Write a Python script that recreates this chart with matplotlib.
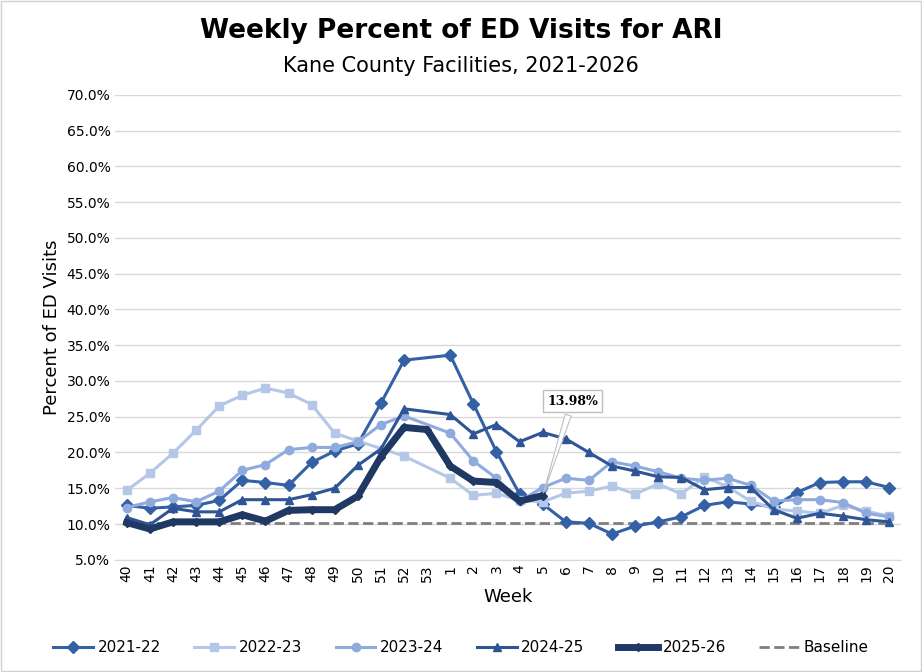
import matplotlib

matplotlib.use("Agg")
import matplotlib.pyplot as plt
import numpy as np
from matplotlib.patches import Rectangle

weeks = [str(w) for w in list(range(40, 54)) + list(range(1, 21))]
N = None

s2122 = [12.6, 12.2, 12.4, 12.6, 13.3, 16.1, 15.8, 15.4, 18.6, 20.2, 21.2, 26.9, 32.9, N,
         33.6, 26.8, 20.1, 14.2, 12.8, 10.3, 10.1, 8.6, 9.7, 10.3, 11.0, 12.6, 13.1, 12.8,
         12.4, 14.4, 15.8, 15.9, 15.9, 15.1]
s2223 = [14.7, 17.1, 19.9, 23.1, 26.5, 28.0, 29.0, 28.3, 26.7, 22.7, 21.6, N, 19.5, N,
         16.4, 14.0, 14.3, 13.3, 13.1, 14.3, 14.6, 15.3, 14.2, 15.6, 14.2, 16.6, 15.2, 13.2,
         12.1, 11.8, 11.5, 12.6, 11.8, 11.1]
s2324 = [12.3, 13.1, 13.7, 13.1, 14.6, 17.5, 18.3, 20.4, 20.7, 20.7, 21.5, 23.9, 25.1, N,
         22.7, 18.8, 16.4, 13.2, 15.1, 16.4, 16.1, 18.7, 18.1, 17.3, 16.4, 16.1, 16.4, 15.4,
         13.2, 13.4, 13.4, 13.0, 11.5, 11.0]
s2425 = [10.9, 9.9, 12.2, 11.7, 11.7, 13.4, 13.4, 13.4, 14.1, 15.0, 18.2, 20.5, 26.1, N,
         25.3, 22.6, 23.9, 21.5, 22.8, 21.9, 20.0, 18.1, 17.4, 16.6, 16.5, 14.8, 15.1, 15.1,
         12.0, 10.8, 11.5, 11.1, 10.6, 10.3]
s2526 = [10.2, 9.3, 10.3, 10.3, 10.3, 11.3, 10.4, 11.9, 12.0, 12.0, 13.9, 19.4, 23.5, 23.2,
         18.1, 16.0, 15.8, 13.2, 13.98]
baseline = 10.2

series = [
    ("2021-22", s2122, "#3460A6", "D", 2.2, 6),
    ("2022-23", s2223, "#B4C7E7", "s", 2.2, 6),
    ("2023-24", s2324, "#8FAADC", "o", 2.2, 6),
    ("2024-25", s2425, "#2F5597", "^", 2.2, 6),
    ("2025-26", s2526, "#1F3864", "D", 5, 4),
]

fig = plt.figure(figsize=(9.22, 6.72), dpi=100)
ax = fig.add_axes([0.125, 0.167, 0.852, 0.692])
fig.patches.append(Rectangle((0.001, 0.001), 0.998, 0.998, transform=fig.transFigure,
                             fill=False, edgecolor="#d0d0d0", linewidth=1))

x_all = np.arange(len(weeks))
for name, vals, color, marker, lw, ms in series:
    arr = np.array([np.nan if v is None else v for v in vals], dtype=float)
    x = x_all[:len(arr)]
    ok = ~np.isnan(arr)
    ax.plot(x[ok], arr[ok], color=color, marker=marker, lw=lw, ms=ms, label=name, zorder=3)

ax.plot(x_all, [baseline] * len(weeks), color="#7f7f7f", ls="--", lw=2, label="Baseline", zorder=2)

last = len(s2526) - 1
ax.annotate(f"{s2526[last]:.2f}%", xy=(last, s2526[last]), xytext=(last + 0.2, 26.7),
            fontsize=9, fontweight="bold", fontfamily="DejaVu Serif",
            bbox=dict(boxstyle="square,pad=0.35", fc="white", ec="#bfbfbf"),
            arrowprops=dict(arrowstyle="wedge,tail_width=0.5", fc="white", ec="#bfbfbf", lw=0.8),
            zorder=5)

ax.set_xlim(-0.5, len(weeks) - 0.5)
ax.set_ylim(5, 70)
ax.set_yticks(np.arange(5, 71, 5))
ax.set_yticklabels([f"{v:.1f}%" for v in np.arange(5, 71, 5)], fontsize=10)
ax.set_xticks(x_all)
ax.set_xticklabels(weeks, rotation=90, fontsize=10)
ax.grid(axis="y", color="#d9d9d9", lw=1)
ax.set_axisbelow(True)
for sp in ["top", "right", "left"]:
    ax.spines[sp].set_visible(False)
ax.spines["bottom"].set_color("#d9d9d9")
ax.tick_params(length=0)
ax.set_xlabel("Week", fontsize=13)
ax.set_ylabel("Percent of ED Visits", fontsize=13)

fig.text(0.5, 0.943, "Weekly Percent of ED Visits for ARI", ha="center", fontsize=19, fontweight="heavy")
fig.text(0.5, 0.893, "Kane County Facilities, 2021-2026", ha="center", fontsize=15)
fig.legend(loc="lower center", ncol=6, frameon=False, fontsize=11, bbox_to_anchor=(0.5, 0.005),
           handlelength=2.6, columnspacing=2.2, handletextpad=0.3)

fig.savefig("out.png", dpi=100)
